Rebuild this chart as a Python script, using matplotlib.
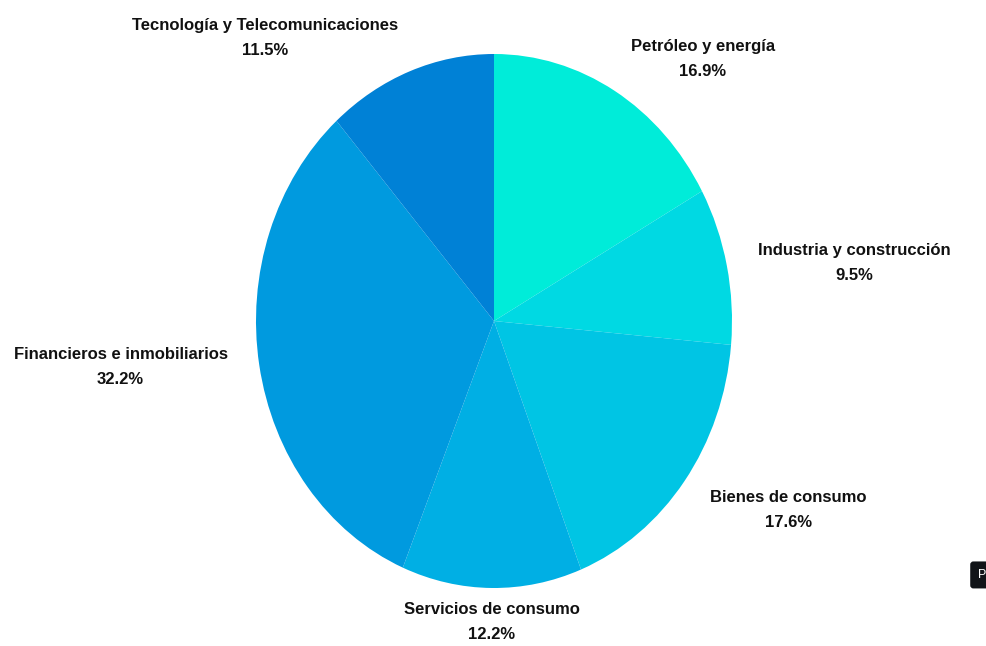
import numpy as np
import matplotlib.pyplot as plt

# sectores y su peso en la cartera (%)
sectores = ["Petróleo y energía", "Industria y construcción", "Bienes de consumo",
            "Servicios de consumo", "Financieros e inmobiliarios",
            "Tecnología y Telecomunicaciones"]
pesos = [16.9, 9.5, 17.6, 12.2, 32.2, 11.5]
colores = ["#00ECD9", "#00D9E3", "#00C5E4", "#00AFE4", "#009ADF", "#0081D6"]

plt.rcParams['font.family'] = ['Liberation Sans', 'DejaVu Sans']

fig = plt.figure(figsize=(9.86, 6.46), dpi=100)
ax = fig.add_axes([256/986, 58/646, 476/986, 534/646])

cunas, _ = ax.pie(pesos, colors=colores, startangle=90, counterclock=False,
                  radius=1, wedgeprops=dict(linewidth=0, antialiased=True))
ax.set_aspect('auto')
ax.set_xlim(-1, 1)
ax.set_ylim(-1, 1)
ax.axis('off')

# etiquetas fuera de cada sector, alineadas según el ángulo medio
for w, nombre, p in zip(cunas, sectores, pesos):
    ang = np.deg2rad((w.theta1 + w.theta2) / 2)
    c, s = np.cos(ang), np.sin(ang)
    ha = 'center' if abs(c) < 0.2 else ('left' if c > 0 else 'right')
    va = 'center' if abs(s) < 0.3 else ('bottom' if s > 0 else 'top')
    ax.annotate(f"{nombre}\n{p}%", xy=(c, s), xytext=(c * 32, s * 14),
                textcoords='offset pixels', ha=ha, va=va, multialignment='center',
                fontsize=12, fontweight='bold', color='#111111',
                linespacing=1.85, annotation_clip=False)

# botón recortado en el borde derecho
fig.text(0.9916, 0.11, "P", ha='left', va='center', fontsize=9, color='white',
         bbox=dict(boxstyle='round,pad=0.6,rounding_size=0.25', fc='#111418', ec='none'))

fig.savefig("out.png", dpi=100)
